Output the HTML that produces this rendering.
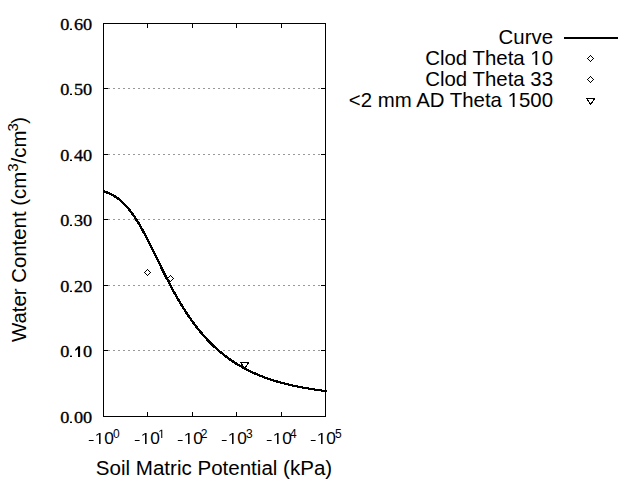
<!DOCTYPE html>
<html><head><meta charset="utf-8"><style>
html,body{margin:0;padding:0;background:#fff;width:640px;height:480px;overflow:hidden}
svg{position:absolute;left:0;top:0;font-family:"Liberation Sans",sans-serif}
text{fill:#000}
.one{fill:transparent}
.one1{fill:transparent;stroke:none}
.yt{font-family:"Liberation Serif",serif;font-size:16px;stroke:#000;stroke-width:0.3px}
.xt{font-size:16px}
.xs{font-size:12px}
.lg{font-size:20.4px}
.ti{font-size:20.55px}
</style></head><body>
<svg width="640" height="480" viewBox="0 0 640 480">
<line x1="108" y1="88.5" x2="320" y2="88.5" stroke="#999" stroke-width="1" stroke-dasharray="2 3"/>
<line x1="108" y1="154.5" x2="320" y2="154.5" stroke="#999" stroke-width="1" stroke-dasharray="2 3"/>
<line x1="108" y1="219.5" x2="320" y2="219.5" stroke="#999" stroke-width="1" stroke-dasharray="2 3"/>
<line x1="108" y1="285.5" x2="320" y2="285.5" stroke="#999" stroke-width="1" stroke-dasharray="2 3"/>
<line x1="108" y1="350.5" x2="320" y2="350.5" stroke="#999" stroke-width="1" stroke-dasharray="2 3"/>
<line x1="104" y1="88.5" x2="108" y2="88.5" stroke="#000"/>
<line x1="321" y1="88.5" x2="325" y2="88.5" stroke="#000"/>
<line x1="104" y1="154.5" x2="108" y2="154.5" stroke="#000"/>
<line x1="321" y1="154.5" x2="325" y2="154.5" stroke="#000"/>
<line x1="104" y1="219.5" x2="108" y2="219.5" stroke="#000"/>
<line x1="321" y1="219.5" x2="325" y2="219.5" stroke="#000"/>
<line x1="104" y1="285.5" x2="108" y2="285.5" stroke="#000"/>
<line x1="321" y1="285.5" x2="325" y2="285.5" stroke="#000"/>
<line x1="104" y1="350.5" x2="108" y2="350.5" stroke="#000"/>
<line x1="321" y1="350.5" x2="325" y2="350.5" stroke="#000"/>
<line x1="147.5" y1="24" x2="147.5" y2="28" stroke="#000"/>
<line x1="147.5" y1="412" x2="147.5" y2="416" stroke="#000"/>
<line x1="192.5" y1="24" x2="192.5" y2="28" stroke="#000"/>
<line x1="192.5" y1="412" x2="192.5" y2="416" stroke="#000"/>
<line x1="236.5" y1="24" x2="236.5" y2="28" stroke="#000"/>
<line x1="236.5" y1="412" x2="236.5" y2="416" stroke="#000"/>
<line x1="281.5" y1="24" x2="281.5" y2="28" stroke="#000"/>
<line x1="281.5" y1="412" x2="281.5" y2="416" stroke="#000"/>
<rect x="103.5" y="23.5" width="222" height="393" fill="none" stroke="#000" shape-rendering="crispEdges"/>
<polyline id="cv" points="103.5,191.28 104.5,191.60 105.5,191.95 106.5,192.32 107.5,192.72 108.5,193.13 109.5,193.58 110.5,194.05 111.5,194.55 112.5,195.08 113.5,195.64 114.5,196.24 115.5,196.86 116.5,197.53 117.5,198.23 118.5,198.97 119.5,199.75 120.5,200.57 121.5,201.43 122.5,202.33 123.5,203.28 124.5,204.27 125.5,205.31 126.5,206.40 127.5,207.53 128.5,208.71 129.5,209.94 130.5,211.22 131.5,212.54 132.5,213.92 133.5,215.34 134.5,216.80 135.5,218.32 136.5,219.87 137.5,221.48 138.5,223.12 139.5,224.81 140.5,226.53 141.5,228.29 142.5,230.09 143.5,231.92 144.5,233.78 145.5,235.67 146.5,237.59 147.5,239.53 148.5,241.50 149.5,243.48 150.5,245.48 151.5,247.49 152.5,249.52 153.5,251.55 154.5,253.59 155.5,255.64 156.5,257.69 157.5,259.74 158.5,261.78 159.5,263.83 160.5,265.86 161.5,267.89 162.5,269.91 163.5,271.92 164.5,273.92 165.5,275.90 166.5,277.87 167.5,279.83 168.5,281.76 169.5,283.68 170.5,285.58 171.5,287.45 172.5,289.31 173.5,291.15 174.5,292.96 175.5,294.75 176.5,296.52 177.5,298.27 178.5,299.99 179.5,301.69 180.5,303.37 181.5,305.02 182.5,306.65 183.5,308.25 184.5,309.83 185.5,311.39 186.5,312.92 187.5,314.42 188.5,315.91 189.5,317.37 190.5,318.80 191.5,320.22 192.5,321.60 193.5,322.97 194.5,324.31 195.5,325.63 196.5,326.93 197.5,328.21 198.5,329.46 199.5,330.70 200.5,331.91 201.5,333.10 202.5,334.27 203.5,335.42 204.5,336.55 205.5,337.66 206.5,338.75 207.5,339.82 208.5,340.87 209.5,341.90 210.5,342.92 211.5,343.91 212.5,344.89 213.5,345.85 214.5,346.80 215.5,347.72 216.5,348.63 217.5,349.53 218.5,350.40 219.5,351.26 220.5,352.11 221.5,352.94 222.5,353.76 223.5,354.56 224.5,355.34 225.5,356.11 226.5,356.87 227.5,357.62 228.5,358.35 229.5,359.06 230.5,359.77 231.5,360.46 232.5,361.14 233.5,361.80 234.5,362.46 235.5,363.10 236.5,363.73 237.5,364.35 238.5,364.95 239.5,365.55 240.5,366.14 241.5,366.71 242.5,367.28 243.5,367.83 244.5,368.37 245.5,368.91 246.5,369.43 247.5,369.94 248.5,370.45 249.5,370.94 250.5,371.43 251.5,371.91 252.5,372.38 253.5,372.84 254.5,373.29 255.5,373.73 256.5,374.17 257.5,374.59 258.5,375.01 259.5,375.43 260.5,375.83 261.5,376.23 262.5,376.62 263.5,377.00 264.5,377.37 265.5,377.74 266.5,378.10 267.5,378.46 268.5,378.81 269.5,379.15 270.5,379.48 271.5,379.81 272.5,380.14 273.5,380.45 274.5,380.77 275.5,381.07 276.5,381.37 277.5,381.67 278.5,381.96 279.5,382.24 280.5,382.52 281.5,382.79 282.5,383.06 283.5,383.33 284.5,383.58 285.5,383.84 286.5,384.09 287.5,384.33 288.5,384.57 289.5,384.81 290.5,385.04 291.5,385.27 292.5,385.49 293.5,385.71 294.5,385.93 295.5,386.14 296.5,386.34 297.5,386.55 298.5,386.75 299.5,386.94 300.5,387.14 301.5,387.32 302.5,387.51 303.5,387.69 304.5,387.87 305.5,388.05 306.5,388.22 307.5,388.39 308.5,388.55 309.5,388.72 310.5,388.88 311.5,389.03 312.5,389.19 313.5,389.34 314.5,389.49 315.5,389.63 316.5,389.78 317.5,389.92 318.5,390.05 319.5,390.19 320.5,390.32 321.5,390.45 322.5,390.58 323.5,390.70 324.5,390.83 325.5,390.95 326.5,391.07" fill="none" stroke="#000" stroke-width="1" shape-rendering="crispEdges" transform="translate(-0.5,-0.5)"/>
<polyline points="103.5,191.28 104.5,191.60 105.5,191.95 106.5,192.32 107.5,192.72 108.5,193.13 109.5,193.58 110.5,194.05 111.5,194.55 112.5,195.08 113.5,195.64 114.5,196.24 115.5,196.86 116.5,197.53 117.5,198.23 118.5,198.97 119.5,199.75 120.5,200.57 121.5,201.43 122.5,202.33 123.5,203.28 124.5,204.27 125.5,205.31 126.5,206.40 127.5,207.53 128.5,208.71 129.5,209.94 130.5,211.22 131.5,212.54 132.5,213.92 133.5,215.34 134.5,216.80 135.5,218.32 136.5,219.87 137.5,221.48 138.5,223.12 139.5,224.81 140.5,226.53 141.5,228.29 142.5,230.09 143.5,231.92 144.5,233.78 145.5,235.67 146.5,237.59 147.5,239.53 148.5,241.50 149.5,243.48 150.5,245.48 151.5,247.49 152.5,249.52 153.5,251.55 154.5,253.59 155.5,255.64 156.5,257.69 157.5,259.74 158.5,261.78 159.5,263.83 160.5,265.86 161.5,267.89 162.5,269.91 163.5,271.92 164.5,273.92 165.5,275.90 166.5,277.87 167.5,279.83 168.5,281.76 169.5,283.68 170.5,285.58 171.5,287.45 172.5,289.31 173.5,291.15 174.5,292.96 175.5,294.75 176.5,296.52 177.5,298.27 178.5,299.99 179.5,301.69 180.5,303.37 181.5,305.02 182.5,306.65 183.5,308.25 184.5,309.83 185.5,311.39 186.5,312.92 187.5,314.42 188.5,315.91 189.5,317.37 190.5,318.80 191.5,320.22 192.5,321.60 193.5,322.97 194.5,324.31 195.5,325.63 196.5,326.93 197.5,328.21 198.5,329.46 199.5,330.70 200.5,331.91 201.5,333.10 202.5,334.27 203.5,335.42 204.5,336.55 205.5,337.66 206.5,338.75 207.5,339.82 208.5,340.87 209.5,341.90 210.5,342.92 211.5,343.91 212.5,344.89 213.5,345.85 214.5,346.80 215.5,347.72 216.5,348.63 217.5,349.53 218.5,350.40 219.5,351.26 220.5,352.11 221.5,352.94 222.5,353.76 223.5,354.56 224.5,355.34 225.5,356.11 226.5,356.87 227.5,357.62 228.5,358.35 229.5,359.06 230.5,359.77 231.5,360.46 232.5,361.14 233.5,361.80 234.5,362.46 235.5,363.10 236.5,363.73 237.5,364.35 238.5,364.95 239.5,365.55 240.5,366.14 241.5,366.71 242.5,367.28 243.5,367.83 244.5,368.37 245.5,368.91 246.5,369.43 247.5,369.94 248.5,370.45 249.5,370.94 250.5,371.43 251.5,371.91 252.5,372.38 253.5,372.84 254.5,373.29 255.5,373.73 256.5,374.17 257.5,374.59 258.5,375.01 259.5,375.43 260.5,375.83 261.5,376.23 262.5,376.62 263.5,377.00 264.5,377.37 265.5,377.74 266.5,378.10 267.5,378.46 268.5,378.81 269.5,379.15 270.5,379.48 271.5,379.81 272.5,380.14 273.5,380.45 274.5,380.77 275.5,381.07 276.5,381.37 277.5,381.67 278.5,381.96 279.5,382.24 280.5,382.52 281.5,382.79 282.5,383.06 283.5,383.33 284.5,383.58 285.5,383.84 286.5,384.09 287.5,384.33 288.5,384.57 289.5,384.81 290.5,385.04 291.5,385.27 292.5,385.49 293.5,385.71 294.5,385.93 295.5,386.14 296.5,386.34 297.5,386.55 298.5,386.75 299.5,386.94 300.5,387.14 301.5,387.32 302.5,387.51 303.5,387.69 304.5,387.87 305.5,388.05 306.5,388.22 307.5,388.39 308.5,388.55 309.5,388.72 310.5,388.88 311.5,389.03 312.5,389.19 313.5,389.34 314.5,389.49 315.5,389.63 316.5,389.78 317.5,389.92 318.5,390.05 319.5,390.19 320.5,390.32 321.5,390.45 322.5,390.58 323.5,390.70 324.5,390.83 325.5,390.95 326.5,391.07" fill="none" stroke="#000" stroke-width="1" shape-rendering="crispEdges" transform="translate(0.5,-0.5)"/>
<polyline points="103.5,191.28 104.5,191.60 105.5,191.95 106.5,192.32 107.5,192.72 108.5,193.13 109.5,193.58 110.5,194.05 111.5,194.55 112.5,195.08 113.5,195.64 114.5,196.24 115.5,196.86 116.5,197.53 117.5,198.23 118.5,198.97 119.5,199.75 120.5,200.57 121.5,201.43 122.5,202.33 123.5,203.28 124.5,204.27 125.5,205.31 126.5,206.40 127.5,207.53 128.5,208.71 129.5,209.94 130.5,211.22 131.5,212.54 132.5,213.92 133.5,215.34 134.5,216.80 135.5,218.32 136.5,219.87 137.5,221.48 138.5,223.12 139.5,224.81 140.5,226.53 141.5,228.29 142.5,230.09 143.5,231.92 144.5,233.78 145.5,235.67 146.5,237.59 147.5,239.53 148.5,241.50 149.5,243.48 150.5,245.48 151.5,247.49 152.5,249.52 153.5,251.55 154.5,253.59 155.5,255.64 156.5,257.69 157.5,259.74 158.5,261.78 159.5,263.83 160.5,265.86 161.5,267.89 162.5,269.91 163.5,271.92 164.5,273.92 165.5,275.90 166.5,277.87 167.5,279.83 168.5,281.76 169.5,283.68 170.5,285.58 171.5,287.45 172.5,289.31 173.5,291.15 174.5,292.96 175.5,294.75 176.5,296.52 177.5,298.27 178.5,299.99 179.5,301.69 180.5,303.37 181.5,305.02 182.5,306.65 183.5,308.25 184.5,309.83 185.5,311.39 186.5,312.92 187.5,314.42 188.5,315.91 189.5,317.37 190.5,318.80 191.5,320.22 192.5,321.60 193.5,322.97 194.5,324.31 195.5,325.63 196.5,326.93 197.5,328.21 198.5,329.46 199.5,330.70 200.5,331.91 201.5,333.10 202.5,334.27 203.5,335.42 204.5,336.55 205.5,337.66 206.5,338.75 207.5,339.82 208.5,340.87 209.5,341.90 210.5,342.92 211.5,343.91 212.5,344.89 213.5,345.85 214.5,346.80 215.5,347.72 216.5,348.63 217.5,349.53 218.5,350.40 219.5,351.26 220.5,352.11 221.5,352.94 222.5,353.76 223.5,354.56 224.5,355.34 225.5,356.11 226.5,356.87 227.5,357.62 228.5,358.35 229.5,359.06 230.5,359.77 231.5,360.46 232.5,361.14 233.5,361.80 234.5,362.46 235.5,363.10 236.5,363.73 237.5,364.35 238.5,364.95 239.5,365.55 240.5,366.14 241.5,366.71 242.5,367.28 243.5,367.83 244.5,368.37 245.5,368.91 246.5,369.43 247.5,369.94 248.5,370.45 249.5,370.94 250.5,371.43 251.5,371.91 252.5,372.38 253.5,372.84 254.5,373.29 255.5,373.73 256.5,374.17 257.5,374.59 258.5,375.01 259.5,375.43 260.5,375.83 261.5,376.23 262.5,376.62 263.5,377.00 264.5,377.37 265.5,377.74 266.5,378.10 267.5,378.46 268.5,378.81 269.5,379.15 270.5,379.48 271.5,379.81 272.5,380.14 273.5,380.45 274.5,380.77 275.5,381.07 276.5,381.37 277.5,381.67 278.5,381.96 279.5,382.24 280.5,382.52 281.5,382.79 282.5,383.06 283.5,383.33 284.5,383.58 285.5,383.84 286.5,384.09 287.5,384.33 288.5,384.57 289.5,384.81 290.5,385.04 291.5,385.27 292.5,385.49 293.5,385.71 294.5,385.93 295.5,386.14 296.5,386.34 297.5,386.55 298.5,386.75 299.5,386.94 300.5,387.14 301.5,387.32 302.5,387.51 303.5,387.69 304.5,387.87 305.5,388.05 306.5,388.22 307.5,388.39 308.5,388.55 309.5,388.72 310.5,388.88 311.5,389.03 312.5,389.19 313.5,389.34 314.5,389.49 315.5,389.63 316.5,389.78 317.5,389.92 318.5,390.05 319.5,390.19 320.5,390.32 321.5,390.45 322.5,390.58 323.5,390.70 324.5,390.83 325.5,390.95 326.5,391.07" fill="none" stroke="#000" stroke-width="1" shape-rendering="crispEdges" transform="translate(-0.5,0.5)"/>
<polyline points="103.5,191.28 104.5,191.60 105.5,191.95 106.5,192.32 107.5,192.72 108.5,193.13 109.5,193.58 110.5,194.05 111.5,194.55 112.5,195.08 113.5,195.64 114.5,196.24 115.5,196.86 116.5,197.53 117.5,198.23 118.5,198.97 119.5,199.75 120.5,200.57 121.5,201.43 122.5,202.33 123.5,203.28 124.5,204.27 125.5,205.31 126.5,206.40 127.5,207.53 128.5,208.71 129.5,209.94 130.5,211.22 131.5,212.54 132.5,213.92 133.5,215.34 134.5,216.80 135.5,218.32 136.5,219.87 137.5,221.48 138.5,223.12 139.5,224.81 140.5,226.53 141.5,228.29 142.5,230.09 143.5,231.92 144.5,233.78 145.5,235.67 146.5,237.59 147.5,239.53 148.5,241.50 149.5,243.48 150.5,245.48 151.5,247.49 152.5,249.52 153.5,251.55 154.5,253.59 155.5,255.64 156.5,257.69 157.5,259.74 158.5,261.78 159.5,263.83 160.5,265.86 161.5,267.89 162.5,269.91 163.5,271.92 164.5,273.92 165.5,275.90 166.5,277.87 167.5,279.83 168.5,281.76 169.5,283.68 170.5,285.58 171.5,287.45 172.5,289.31 173.5,291.15 174.5,292.96 175.5,294.75 176.5,296.52 177.5,298.27 178.5,299.99 179.5,301.69 180.5,303.37 181.5,305.02 182.5,306.65 183.5,308.25 184.5,309.83 185.5,311.39 186.5,312.92 187.5,314.42 188.5,315.91 189.5,317.37 190.5,318.80 191.5,320.22 192.5,321.60 193.5,322.97 194.5,324.31 195.5,325.63 196.5,326.93 197.5,328.21 198.5,329.46 199.5,330.70 200.5,331.91 201.5,333.10 202.5,334.27 203.5,335.42 204.5,336.55 205.5,337.66 206.5,338.75 207.5,339.82 208.5,340.87 209.5,341.90 210.5,342.92 211.5,343.91 212.5,344.89 213.5,345.85 214.5,346.80 215.5,347.72 216.5,348.63 217.5,349.53 218.5,350.40 219.5,351.26 220.5,352.11 221.5,352.94 222.5,353.76 223.5,354.56 224.5,355.34 225.5,356.11 226.5,356.87 227.5,357.62 228.5,358.35 229.5,359.06 230.5,359.77 231.5,360.46 232.5,361.14 233.5,361.80 234.5,362.46 235.5,363.10 236.5,363.73 237.5,364.35 238.5,364.95 239.5,365.55 240.5,366.14 241.5,366.71 242.5,367.28 243.5,367.83 244.5,368.37 245.5,368.91 246.5,369.43 247.5,369.94 248.5,370.45 249.5,370.94 250.5,371.43 251.5,371.91 252.5,372.38 253.5,372.84 254.5,373.29 255.5,373.73 256.5,374.17 257.5,374.59 258.5,375.01 259.5,375.43 260.5,375.83 261.5,376.23 262.5,376.62 263.5,377.00 264.5,377.37 265.5,377.74 266.5,378.10 267.5,378.46 268.5,378.81 269.5,379.15 270.5,379.48 271.5,379.81 272.5,380.14 273.5,380.45 274.5,380.77 275.5,381.07 276.5,381.37 277.5,381.67 278.5,381.96 279.5,382.24 280.5,382.52 281.5,382.79 282.5,383.06 283.5,383.33 284.5,383.58 285.5,383.84 286.5,384.09 287.5,384.33 288.5,384.57 289.5,384.81 290.5,385.04 291.5,385.27 292.5,385.49 293.5,385.71 294.5,385.93 295.5,386.14 296.5,386.34 297.5,386.55 298.5,386.75 299.5,386.94 300.5,387.14 301.5,387.32 302.5,387.51 303.5,387.69 304.5,387.87 305.5,388.05 306.5,388.22 307.5,388.39 308.5,388.55 309.5,388.72 310.5,388.88 311.5,389.03 312.5,389.19 313.5,389.34 314.5,389.49 315.5,389.63 316.5,389.78 317.5,389.92 318.5,390.05 319.5,390.19 320.5,390.32 321.5,390.45 322.5,390.58 323.5,390.70 324.5,390.83 325.5,390.95 326.5,391.07" fill="none" stroke="#000" stroke-width="1" shape-rendering="crispEdges" transform="translate(0.5,0.5)"/>
<path d="M144.6 272.5L147.6 269.5L150.6 272.5L147.6 275.5Z" fill="none" stroke="#000" shape-rendering="crispEdges"/>
<path d="M167.6 278.5L170.6 275.5L173.6 278.5L170.6 281.5Z" fill="none" stroke="#000" shape-rendering="crispEdges"/>
<path d="M240.6 362.5L248.6 362.5L244.6 368.5Z" fill="none" stroke="#000" shape-rendering="crispEdges"/>
<line x1="564" y1="38" x2="618" y2="38" stroke="#000" stroke-width="2"/>
<path d="M587.6 58.5L590.6 55.5L593.6 58.5L590.6 61.5Z" fill="none" stroke="#000" shape-rendering="crispEdges"/>
<path d="M587.6 79.5L590.6 76.5L593.6 79.5L590.6 82.5Z" fill="none" stroke="#000" shape-rendering="crispEdges"/>
<path d="M586.6 98.5L594.6 98.5L590.6 104.5Z" fill="none" stroke="#000" shape-rendering="crispEdges"/>
<rect x="70" y="28.6" width="2" height="1.4" fill="#000"/>
<text class="yt" text-anchor="end" transform="translate(92.1,30) scale(1.14,1)">0<tspan class="one1">.</tspan>60</text>
<rect x="70" y="93.6" width="2" height="1.4" fill="#000"/>
<text class="yt" text-anchor="end" transform="translate(92.1,95) scale(1.14,1)">0<tspan class="one1">.</tspan>50</text>
<rect x="70" y="159.6" width="2" height="1.4" fill="#000"/>
<text class="yt" text-anchor="end" transform="translate(92.1,161) scale(1.14,1)">0<tspan class="one1">.</tspan>40</text>
<rect x="70" y="224.6" width="2" height="1.4" fill="#000"/>
<text class="yt" text-anchor="end" transform="translate(92.1,226) scale(1.14,1)">0<tspan class="one1">.</tspan>30</text>
<rect x="70" y="290.6" width="2" height="1.4" fill="#000"/>
<text class="yt" text-anchor="end" transform="translate(92.1,292) scale(1.14,1)">0<tspan class="one1">.</tspan>20</text>
<rect x="70" y="355.6" width="2" height="1.4" fill="#000"/>
<text class="yt" text-anchor="end" transform="translate(92.1,357) scale(1.14,1)">0<tspan class="one1">.</tspan><tspan class="one1">1</tspan>0</text>
<rect x="70" y="421.6" width="2" height="1.4" fill="#000"/>
<text class="yt" text-anchor="end" transform="translate(92.1,423) scale(1.14,1)">0<tspan class="one1">.</tspan>00</text>
<path d="M78 346.2L80.1 346.2L80.1 357L78 357L78 349.1L75.3 350.9L75.3 349.3L77.6 346.9Z" fill="#000"/>
<rect x="88.8" y="440" width="4.8" height="1" fill="#000"/>
<text class="xt" transform="translate(94.7,444) scale(1.08,1)"><tspan class="one">1</tspan>0</text>
<text class="xs" x="113" y="438">0</text>
<rect x="134.8" y="440" width="4.8" height="1" fill="#000"/>
<text class="xt" transform="translate(140.7,444) scale(1.08,1)"><tspan class="one">1</tspan>0</text>
<text class="xs" x="158.2" y="438"><tspan class="one">1</tspan></text>
<rect x="177.8" y="440" width="4.8" height="1" fill="#000"/>
<text class="xt" transform="translate(183.7,444) scale(1.08,1)"><tspan class="one">1</tspan>0</text>
<text class="xs" x="200.8" y="438">2</text>
<rect x="221.8" y="440" width="4.8" height="1" fill="#000"/>
<text class="xt" transform="translate(227.7,444) scale(1.08,1)"><tspan class="one">1</tspan>0</text>
<text class="xs" x="246" y="438">3</text>
<rect x="266.8" y="440" width="4.8" height="1" fill="#000"/>
<text class="xt" transform="translate(272.7,444) scale(1.08,1)"><tspan class="one">1</tspan>0</text>
<text class="xs" x="290" y="438">4</text>
<rect x="310.8" y="440" width="4.8" height="1" fill="#000"/>
<text class="xt" transform="translate(316.7,444) scale(1.08,1)"><tspan class="one">1</tspan>0</text>
<text class="xs" x="335" y="438">5</text>
<text class="lg" x="553" y="44" text-anchor="end">Curve</text>
<text class="lg" x="553" y="65" text-anchor="end">Clod Theta <tspan class="one">1</tspan>0</text>
<text class="lg" x="553" y="86" text-anchor="end">Clod Theta 33</text>
<text class="lg" x="553" y="107" text-anchor="end">&lt;2 mm AD Theta <tspan class="one">1</tspan>500</text>
<text class="ti" x="214" y="475" text-anchor="middle">Soil Matric Potential (kPa)</text>
<text class="ti" style="font-size:20.4px" transform="translate(26,229.5) rotate(-90)" text-anchor="middle">Water Content (cm<tspan font-size="15" dy="-8.5">3</tspan><tspan dy="8.5">/cm</tspan><tspan font-size="15" dy="-8.5" dx="-1">3</tspan><tspan dy="8.5" dx="-0.5">)</tspan></text>
<path transform="matrix(0.00844,0.00000,-0.00000,-0.00781,94.700,444.000)" d="M515 0L515 1237L197 1010L197 1180L530 1409L696 1409L696 0Z"/><path transform="matrix(0.00844,0.00000,-0.00000,-0.00781,140.700,444.000)" d="M515 0L515 1237L197 1010L197 1180L530 1409L696 1409L696 0Z"/><path transform="matrix(0.00586,0.00000,-0.00000,-0.00586,158.200,438.000)" d="M515 0L515 1237L197 1010L197 1180L530 1409L696 1409L696 0Z"/><path transform="matrix(0.00844,0.00000,-0.00000,-0.00781,183.700,444.000)" d="M515 0L515 1237L197 1010L197 1180L530 1409L696 1409L696 0Z"/><path transform="matrix(0.00844,0.00000,-0.00000,-0.00781,227.700,444.000)" d="M515 0L515 1237L197 1010L197 1180L530 1409L696 1409L696 0Z"/><path transform="matrix(0.00844,0.00000,-0.00000,-0.00781,272.700,444.000)" d="M515 0L515 1237L197 1010L197 1180L530 1409L696 1409L696 0Z"/><path transform="matrix(0.00844,0.00000,-0.00000,-0.00781,316.700,444.000)" d="M515 0L515 1237L197 1010L197 1180L530 1409L696 1409L696 0Z"/><path transform="matrix(0.00996,0.00000,-0.00000,-0.00996,530.312,65.000)" d="M515 0L515 1237L197 1010L197 1180L530 1409L696 1409L696 0Z"/><path transform="matrix(0.00996,0.00000,-0.00000,-0.00996,507.625,107.000)" d="M515 0L515 1237L197 1010L197 1180L530 1409L696 1409L696 0Z"/>
</svg>
</body></html>
